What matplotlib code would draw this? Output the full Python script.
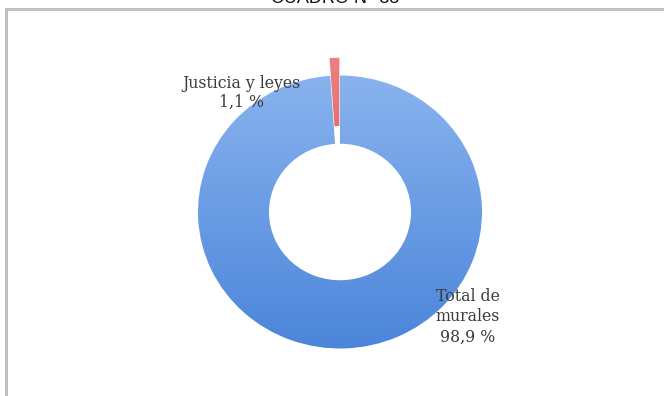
import matplotlib
matplotlib.use("Agg")
import matplotlib.pyplot as plt
import numpy as np
from matplotlib.colors import LinearSegmentedColormap
from matplotlib.lines import Line2D

title = "CUADRO N° 35"
categories = ["Justicia y leyes", "Total de\nmurales"]
values = [1.1, 98.9]
value_labels = ["1,1 %", "98,9 %"]

fig = plt.figure(figsize=(6.64, 3.96), dpi=100)
fig.patch.set_facecolor("white")

# frame lines (top and left) of the embedded chart
fig.add_artist(Line2D([6/664, 1.0], [1-9/396, 1-9/396], color="#c2c2c2", lw=2.2, transform=fig.transFigure))
fig.add_artist(Line2D([6/664, 6/664], [0, 1-9/396], color="#c2c2c2", lw=2.2, transform=fig.transFigure))

fig.text(0.505, 1.004, title, ha="center", va="center", fontsize=13,
         family="Liberation Sans", color="#111111")

ax = fig.add_axes([141.2/664, 6.55/396, 397.6/664, 382.2/396])
ax.set_xlim(-1.4, 1.4)
ax.set_ylim(-1.3, 1.5)
ax.axis("off")

wedges, _ = ax.pie(values, startangle=90, counterclock=True, radius=1.0,
                   explode=[0.13, 0.0],
                   wedgeprops=dict(width=0.5, edgecolor="white", linewidth=0.6))

cmaps = [
    LinearSegmentedColormap.from_list("r", ["#cc3f3f", "#ee8282"]),
    LinearSegmentedColormap.from_list("b", ["#4a84d9", "#8fb8f1"]),
]
grad = np.linspace(0, 1, 256).reshape(-1, 1)
for w, cm in zip(wedges, cmaps):
    w.set_facecolor("none")
    im = ax.imshow(grad, cmap=cm, origin="lower", aspect="auto",
                   extent=[-1.4, 1.4, -1.05, 1.2], zorder=1)
    im.set_clip_path(w)
ax.set_xlim(-1.4, 1.4)
ax.set_ylim(-1.3, 1.5)
ax.set_aspect("auto")

ax.text(-0.694, 0.872, categories[0] + "\n" + value_labels[0], ha="center", va="center",
        fontsize=11.3, family="DejaVu Serif", color="#3a3a3a", linespacing=1.2, zorder=3)
ax.text(0.898, -0.769, categories[1] + "\n" + value_labels[1], ha="center", va="center",
        fontsize=11.3, family="DejaVu Serif", color="#3a3a3a", linespacing=1.25, zorder=3)

fig.savefig("out.png", dpi=100, facecolor="white")
